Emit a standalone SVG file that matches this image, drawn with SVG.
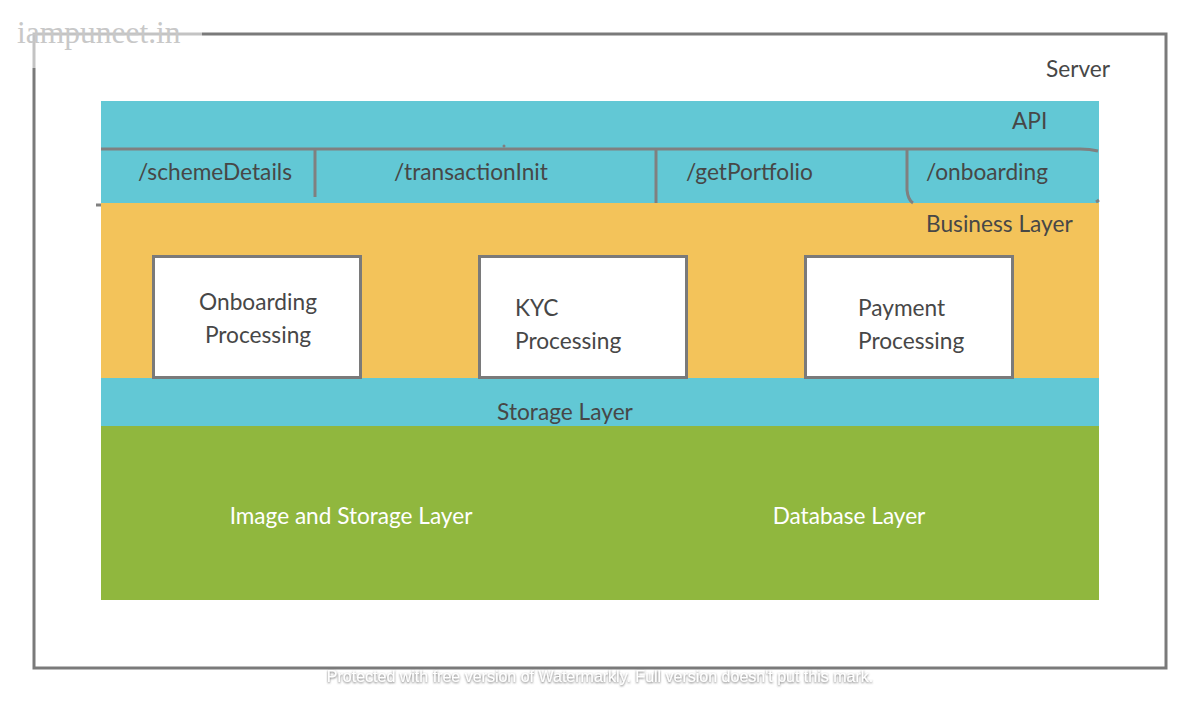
<svg xmlns="http://www.w3.org/2000/svg" width="1200" height="703" viewBox="0 0 1200 703">
<defs>
<style>
.t{font-family:Lato,"Open Sans","Liberation Sans",sans-serif;font-size:22.7px;fill:#474747}
.w{font-family:Lato,"Open Sans","Liberation Sans",sans-serif;font-size:22.6px;fill:#ffffff}
.ln{fill:none;stroke:#808080;stroke-width:3;stroke-linecap:butt}
.box{fill:#ffffff;stroke:#7a7a7a;stroke-width:3}
.cyan{fill:#62c8d5}
</style>
<filter id="sh" x="-5%" y="-50%" width="110%" height="200%">
<feDropShadow dx="0" dy="1" stdDeviation="1.2" flood-color="#555" flood-opacity="0.9"/>
</filter>
</defs>
<rect width="1200" height="703" fill="#ffffff"/>
<g id="server">
<rect x="34" y="34" width="1132" height="634" fill="none" stroke="#7a7a7a" stroke-width="3"/>
<text class="t" x="1046" y="77">Server</text>
</g>
<g id="api">
<rect class="cyan" x="101" y="101" width="998" height="102"/>
<text class="t" x="1012" y="129">API</text>
</g>
<g id="business">
<rect x="101" y="203" width="998" height="175" fill="#f3c35a"/>
<text class="t" x="926" y="232">Business Layer</text>
</g>
<g id="storage">
<rect class="cyan" x="101" y="378" width="998" height="48"/>
<text class="t" x="565" y="420" text-anchor="middle">Storage Layer</text>
</g>
<g id="data">
<rect x="101" y="426" width="998" height="174" fill="#90b73e"/>
<text class="w" x="351" y="524" text-anchor="middle">Image and Storage Layer</text>
<text class="w" x="849" y="524" text-anchor="middle">Database Layer</text>
</g>
<g id="connectors">
<path class="ln" d="M101 149 H1080 Q1090 149 1098 151"/>
<path class="ln" d="M315 150 V197"/>
<path class="ln" d="M656 149 V203"/>
<path class="ln" d="M907 149 V190 Q908 200 913 203"/>
<path class="ln" d="M1096 202 L1099 200"/>
<path class="ln" d="M96 205 H101"/>
<circle cx="504" cy="146" r="1.5" fill="#808080"/>
</g>
<g id="ep-schemeDetails"><text class="t" x="215" y="180" text-anchor="middle">/schemeDetails</text></g>
<g id="ep-transactionInit"><text class="t" x="471" y="180" text-anchor="middle">/transactionInit</text></g>
<g id="ep-getPortfolio"><text class="t" x="686" y="180">/getPortfolio</text></g>
<g id="ep-onboarding"><text class="t" x="926" y="180">/onboarding</text></g>
<g id="onboarding-processing">
<rect class="box" x="153.5" y="256.5" width="207" height="121"/>
<text class="t" x="258" y="310" text-anchor="middle">Onboarding</text>
<text class="t" x="258" y="343" text-anchor="middle">Processing</text>
</g>
<g id="kyc-processing">
<rect class="box" x="479.5" y="256.5" width="207" height="121"/>
<text class="t" x="515" y="316">KYC</text>
<text class="t" x="515" y="349">Processing</text>
</g>
<g id="payment-processing">
<rect class="box" x="805.5" y="256.5" width="207" height="121"/>
<text class="t" x="858" y="316">Payment</text>
<text class="t" x="858" y="349">Processing</text>
</g>
<g id="watermarks">
<rect x="14" y="16" width="188" height="52" fill="#ffffff" opacity="0.55"/>
<text x="17" y="43" font-family="'Liberation Serif',serif" font-size="31.5" fill="#c8c8c8">iampuneet.in</text>
<text x="600" y="682" text-anchor="middle" font-family="'Liberation Sans',Arial,sans-serif" font-size="16" fill="#ffffff" filter="url(#sh)">Protected with free version of Watermarkly. Full version doesn't put this mark.</text>
</g>
</svg>
